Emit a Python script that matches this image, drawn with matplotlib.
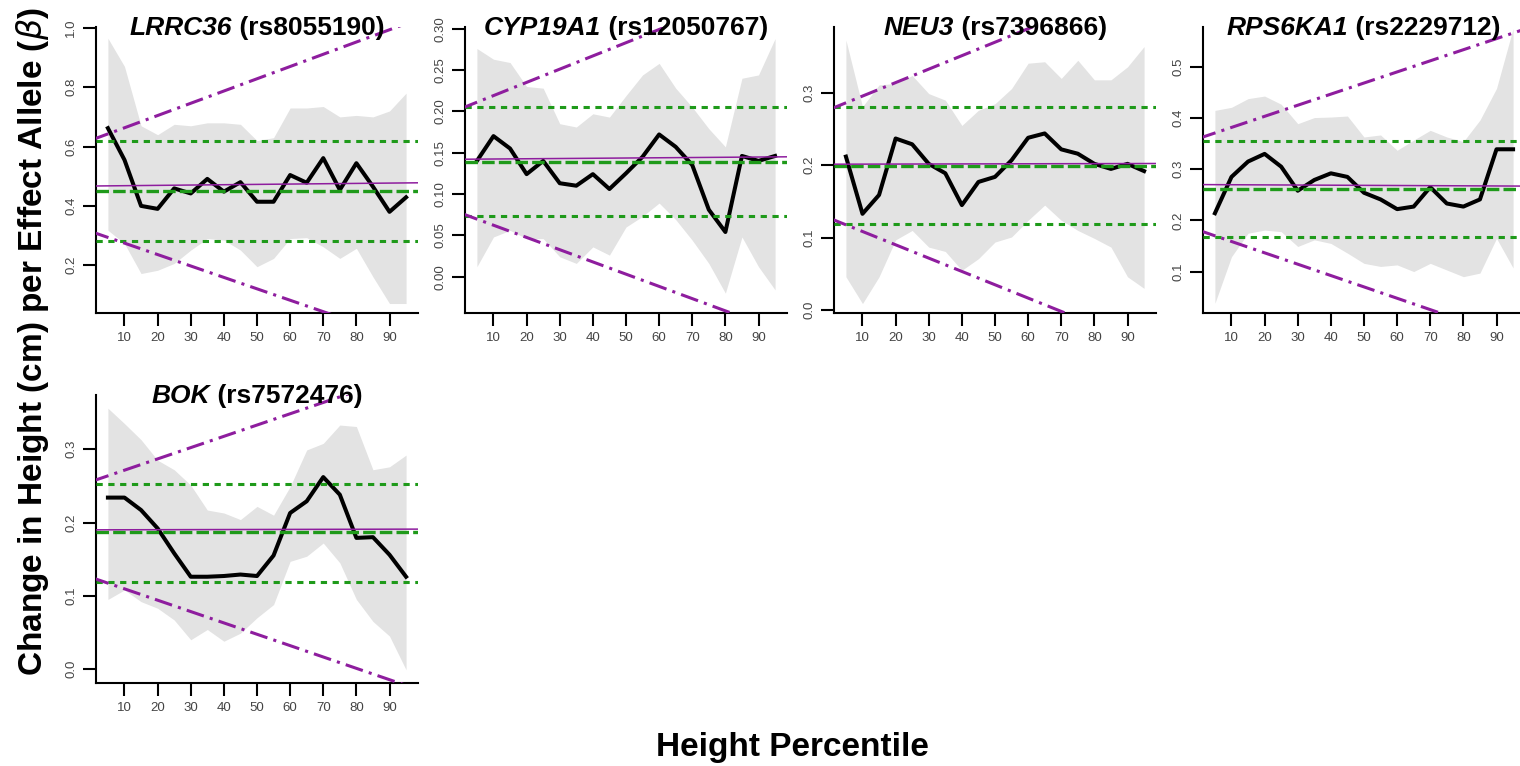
import matplotlib
matplotlib.use("Agg")
import matplotlib.pyplot as plt
from matplotlib.offsetbox import TextArea, HPacker, AnchoredOffsetbox

plt.rcParams['font.family'] = ['Liberation Sans', 'DejaVu Sans']
plt.rcParams['lines.scale_dashes'] = False

# height percentile bins (x of every point)
percentiles = [5, 10, 15, 20, 25, 30, 35, 40, 45, 50, 55, 60, 65, 70, 75, 80, 85, 90, 95]
xticks = [10, 20, 30, 40, 50, 60, 70, 80, 90]

genes = ['LRRC36', 'CYP19A1', 'NEU3', 'RPS6KA1', 'BOK']
snps = ['rs8055190', 'rs12050767', 'rs7396866', 'rs2229712', 'rs7572476']

# per-percentile effect estimates
beta_lrrc36 = [0.662, 0.555, 0.400, 0.390, 0.459, 0.442, 0.491, 0.448, 0.480, 0.414,
               0.414, 0.504, 0.478, 0.561, 0.454, 0.544, 0.465, 0.380, 0.429]
beta_cyp19a1 = [0.140, 0.170, 0.155, 0.124, 0.140, 0.113, 0.110, 0.124, 0.106, 0.125,
                0.145, 0.172, 0.157, 0.135, 0.081, 0.054, 0.146, 0.140, 0.146]
beta_neu3 = [0.212, 0.133, 0.159, 0.237, 0.229, 0.202, 0.189, 0.145, 0.177, 0.184,
             0.207, 0.238, 0.244, 0.222, 0.216, 0.202, 0.195, 0.202, 0.192]
beta_rps6ka1 = [0.214, 0.285, 0.315, 0.330, 0.305, 0.258, 0.279, 0.292, 0.285, 0.254,
                0.241, 0.222, 0.227, 0.265, 0.233, 0.227, 0.241, 0.339, 0.339]
beta_bok = [0.234, 0.234, 0.217, 0.192, 0.158, 0.126, 0.126, 0.127, 0.129, 0.127,
            0.155, 0.213, 0.229, 0.262, 0.238, 0.179, 0.180, 0.156, 0.126]

# confidence band (lower / upper)
ci_lo_lrrc36 = [0.318, 0.273, 0.172, 0.183, 0.206, 0.251, 0.290, 0.285, 0.251, 0.195,
                0.223, 0.290, 0.293, 0.262, 0.223, 0.257, 0.161, 0.071, 0.071]
ci_hi_lrrc36 = [0.965, 0.870, 0.670, 0.640, 0.675, 0.670, 0.680, 0.680, 0.675, 0.620,
                0.630, 0.730, 0.730, 0.735, 0.700, 0.705, 0.700, 0.720, 0.780]
ci_lo_cyp19a1 = [0.012, 0.048, 0.056, 0.046, 0.046, 0.024, 0.016, 0.036, 0.026, 0.060,
                 0.073, 0.089, 0.069, 0.044, 0.016, -0.020, 0.048, 0.012, -0.016]
ci_hi_cyp19a1 = [0.276, 0.263, 0.259, 0.230, 0.228, 0.185, 0.181, 0.197, 0.193, 0.219,
                 0.244, 0.258, 0.228, 0.205, 0.179, 0.157, 0.240, 0.244, 0.288]
ci_lo_neu3 = [0.046, 0.009, 0.046, 0.097, 0.110, 0.087, 0.081, 0.055, 0.071, 0.094,
              0.101, 0.124, 0.145, 0.124, 0.110, 0.099, 0.087, 0.046, 0.030]
ci_hi_neu3 = [0.373, 0.281, 0.311, 0.313, 0.324, 0.299, 0.290, 0.255, 0.276, 0.285,
              0.306, 0.341, 0.343, 0.320, 0.345, 0.318, 0.318, 0.336, 0.364]
ci_lo_rps6ka1 = [0.038, 0.129, 0.175, 0.181, 0.178, 0.149, 0.162, 0.155, 0.136, 0.116,
                 0.110, 0.113, 0.100, 0.116, 0.103, 0.090, 0.097, 0.165, 0.107]
ci_hi_rps6ka1 = [0.415, 0.421, 0.438, 0.443, 0.427, 0.389, 0.401, 0.402, 0.404, 0.363,
                 0.367, 0.337, 0.357, 0.376, 0.363, 0.354, 0.396, 0.458, 0.575]
ci_lo_bok = [0.095, 0.108, 0.092, 0.083, 0.067, 0.040, 0.054, 0.038, 0.049, 0.070,
             0.088, 0.147, 0.154, 0.172, 0.145, 0.095, 0.065, 0.045, -0.001]
ci_hi_bok = [0.356, 0.335, 0.313, 0.285, 0.272, 0.251, 0.217, 0.213, 0.204, 0.222,
             0.210, 0.249, 0.299, 0.308, 0.333, 0.331, 0.272, 0.276, 0.292]

# overall effect (green dashed) and its CI (green dotted)
overall_beta = [0.450, 0.139, 0.199, 0.261, 0.187]
overall_lo = [0.283, 0.073, 0.119, 0.167, 0.119]
overall_hi = [0.620, 0.205, 0.280, 0.356, 0.253]

# fitted trend across percentiles (value at 0 and 100)
trend_at = [0, 100]
trend = [(0.467, 0.478), (0.142, 0.145), (0.2015, 0.2025), (0.270, 0.267), (0.190, 0.191)]
trend_upper = [(0.622, 1.035), (0.203, 0.363), (0.277, 0.463), (0.360, 0.577), (0.256, 0.410)]
trend_lower = [(0.313, -0.072), (0.077, -0.071), (0.127, -0.057), (0.181, -0.041), (0.125, -0.030)]

yticks = [[0.2, 0.4, 0.6, 0.8, 1.0],
          [0.00, 0.05, 0.10, 0.15, 0.20, 0.25, 0.30],
          [0.0, 0.1, 0.2, 0.3],
          [0.1, 0.2, 0.3, 0.4, 0.5],
          [0.0, 0.1, 0.2, 0.3]]
ytick_fmt = ['%.1f', '%.2f', '%.1f', '%.1f', '%.1f']
ylims = [(0.039, 1.003), (-0.044, 0.302), (-0.004, 0.391), (0.019, 0.578), (-0.019, 0.374)]

betas = [beta_lrrc36, beta_cyp19a1, beta_neu3, beta_rps6ka1, beta_bok]
ci_lo = [ci_lo_lrrc36, ci_lo_cyp19a1, ci_lo_neu3, ci_lo_rps6ka1, ci_lo_bok]
ci_hi = [ci_hi_lrrc36, ci_hi_cyp19a1, ci_hi_neu3, ci_hi_rps6ka1, ci_hi_bok]

purple = '#8e1d9e'
green = '#1f9a1a'
band = '#e3e3e3'

W, H = 1520, 766
fig = plt.figure(figsize=(W / 100, H / 100), dpi=100)

# panel boxes in pixels: left, top, right, bottom
col_left = [96, 465, 834, 1203]
panel_w = 322
rows = [(27, 313), (395, 683)]

for i in range(5):
    r, c = divmod(i, 4)
    top, bot = rows[r]
    ax = fig.add_axes([col_left[c] / W, (H - bot) / H, panel_w / W, (bot - top) / H])

    ax.fill_between(percentiles, ci_lo[i], ci_hi[i], color=band, lw=0, zorder=1)
    ax.plot(percentiles, betas[i], color='black', lw=2.9, zorder=3, solid_joinstyle='round')
    ax.axhline(overall_beta[i], color=green, lw=2.4, dashes=(9, 3), zorder=4)
    ax.axhline(overall_lo[i], color=green, lw=2.2, dashes=(4.5, 4), zorder=4)
    ax.axhline(overall_hi[i], color=green, lw=2.2, dashes=(4.5, 4), zorder=4)
    ax.plot(trend_at, trend[i], color=purple, lw=1.1, zorder=5)
    ax.plot(trend_at, trend_upper[i], color=purple, lw=2.2, dashes=(13, 4.5, 2.2, 4.5), zorder=5)
    ax.plot(trend_at, trend_lower[i], color=purple, lw=2.2, dashes=(13, 4.5, 2.2, 4.5), zorder=5)

    ax.set_xlim(1.4, 98.6)
    ax.set_ylim(*ylims[i])
    ax.set_xticks(xticks)
    ax.set_xticklabels([str(t) for t in xticks])
    ax.set_yticks(yticks[i])
    ax.set_yticklabels([ytick_fmt[i] % t for t in yticks[i]], rotation=90, va='center')
    ax.tick_params(direction='out', length=9.5, width=1.5, labelsize=9.5,
                   labelcolor='#444444', pad=4)
    for s in ['top', 'right']:
        ax.spines[s].set_visible(False)
    for s in ['left', 'bottom']:
        ax.spines[s].set_linewidth(1.5)

    # title: italic gene + plain snp id
    t1 = TextArea(genes[i], textprops=dict(fontsize=19, fontweight='bold', fontstyle='italic'))
    t2 = TextArea(' (' + snps[i] + ')', textprops=dict(fontsize=19, fontweight='bold'))
    box = HPacker(children=[t1, t2], align='baseline', pad=0, sep=0)
    anc = AnchoredOffsetbox(loc='lower center', child=box, pad=0, borderpad=0, frameon=False,
                            bbox_to_anchor=(0.5, 0.955), bbox_transform=ax.transAxes)
    anc.set_zorder(10)
    ax.add_artist(anc)

fig.text(33 / W, (H - 342) / H, r'Change in Height (cm) per Effect Allele ($\beta$)',
         rotation=90, ha='center', va='center', fontsize=24, fontweight='bold')
fig.text(792 / W, (H - 756) / H, 'Height Percentile', ha='center', va='baseline',
         fontsize=24, fontweight='bold')

fig.savefig('out.png', dpi=100)
